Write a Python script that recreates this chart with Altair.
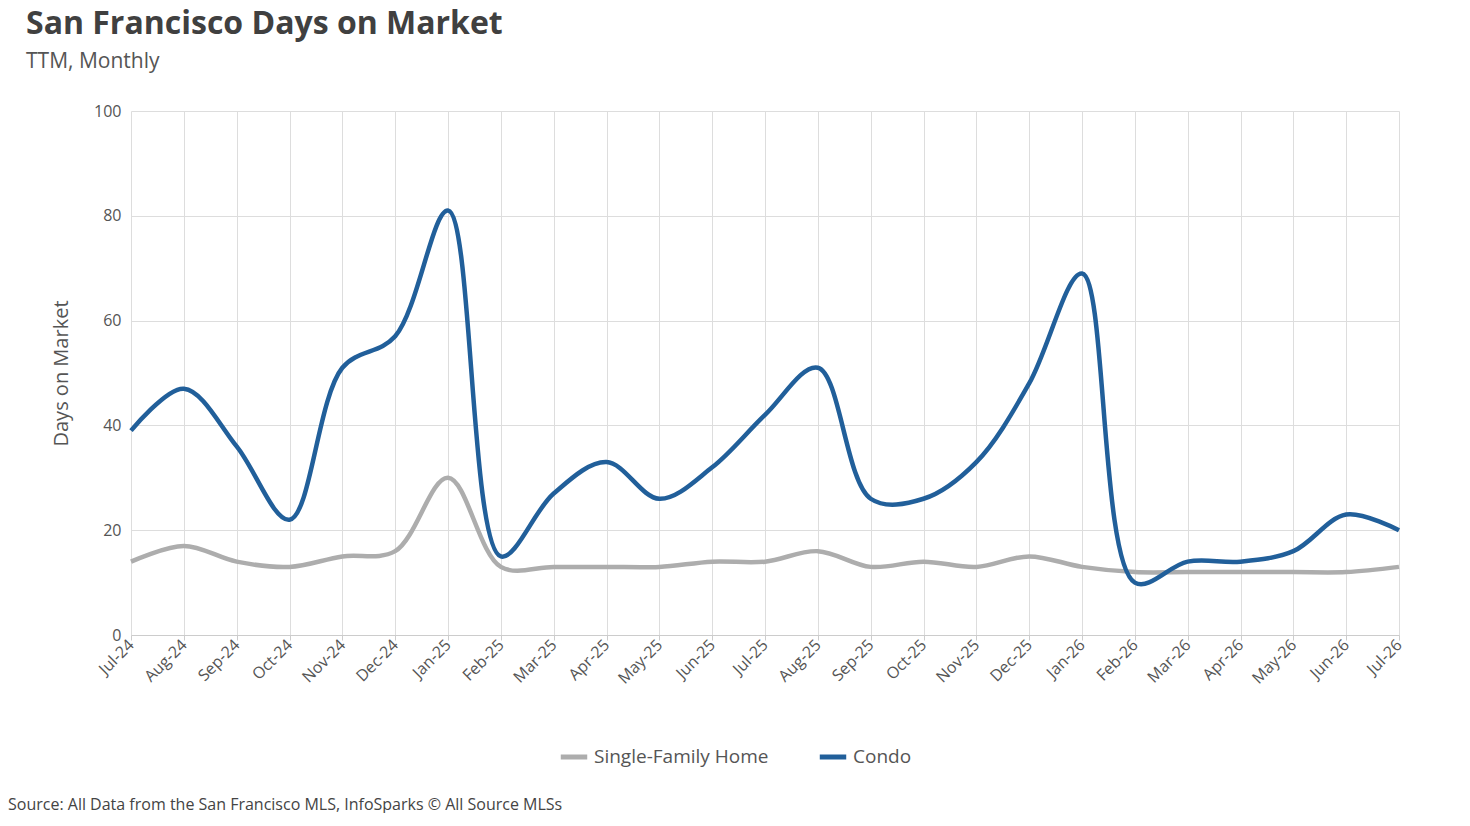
import altair as alt
import pandas as pd

months = ["Jul-24", "Aug-24", "Sep-24", "Oct-24", "Nov-24", "Dec-24", "Jan-25", "Feb-25", "Mar-25",
          "Apr-25", "May-25", "Jun-25", "Jul-25", "Aug-25", "Sep-25", "Oct-25", "Nov-25", "Dec-25",
          "Jan-26", "Feb-26", "Mar-26", "Apr-26", "May-26", "Jun-26", "Jul-26"]
sfh = [14, 17, 14, 13, 15, 16, 30, 13, 13, 13, 13, 14, 14, 16, 13, 14, 13, 15, 13, 12, 12, 12, 12, 12, 13]
condo = [39, 47, 36, 22, 51, 57, 81, 15, 27, 33, 26, 32, 42, 51, 26, 26, 33, 48, 69, 10, 14, 14, 16, 23, 20]

df = pd.concat([
    pd.DataFrame({"Month": months, "Days": sfh, "Type": "Single-Family Home"}),
    pd.DataFrame({"Month": months, "Days": condo, "Type": "Condo"}),
])
font = "Open Sans"

lines = alt.Chart(df).mark_line(interpolate="catmull-rom", strokeWidth=4.5).encode(
    x=alt.X("Month:N", sort=months, scale=alt.Scale(paddingOuter=0, paddingInner=0, padding=0), title=None,
            axis=alt.Axis(labelAngle=-45, labelAlign="right", labelBaseline="middle", labelFontSize=16,
                          labelColor="#555", grid=True, gridColor="#ddd", domainColor="#ccc", tickColor="#ccc",
                          labelPadding=2)),
    y=alt.Y("Days:Q", scale=alt.Scale(domain=[0, 100]), title="Days on Market",
            axis=alt.Axis(values=[0, 20, 40, 60, 80, 100], labelFontSize=16, labelColor="#555",
                          titleFontSize=20, titleColor="#555", titleFontWeight="normal", gridColor="#ddd",
                          domain=False, ticks=False, titlePadding=22, labelPadding=10)),
    color=alt.Color("Type:N", sort=["Single-Family Home", "Condo"],
                    scale=alt.Scale(domain=["Single-Family Home", "Condo"], range=["#adadad", "#215f9a"]),
                    legend=alt.Legend(orient="none", legendX=427, legendY=630, title=None, symbolType="stroke",
                                      symbolStrokeWidth=5, symbolSize=700, labelFontSize=19, labelColor="#555",
                                      columnPadding=40, labelLimit=400, direction="horizontal")),
)

source = alt.Chart(pd.DataFrame({"t": ["Source: All Data from the San Francisco MLS, InfoSparks © All Source MLSs"]})).mark_text(
    align="left", fontSize=16, color="#444", font=font
).encode(text="t:N", x=alt.value(-123), y=alt.value(694))

chart = alt.layer(lines, source).properties(
    width=1268, height=524,
    title=alt.TitleParams("San Francisco Days on Market", subtitle="\u00a0\u00a0\u00a0\u00a0\u00a0TTM, Monthly",
                          anchor="start", fontSize=32, fontWeight="bold", color="#404040", subtitleFontSize=21,
                          subtitleColor="#555", subtitlePadding=10, offset=30, dx=18, font=font,
                          subtitleFont=font),
    padding={"left": 0, "top": 0, "right": 40, "bottom": 0},
).configure(font=font).configure_view(stroke=None)

chart.save("out.html", embed_options={"renderer": "svg", "actions": False})
